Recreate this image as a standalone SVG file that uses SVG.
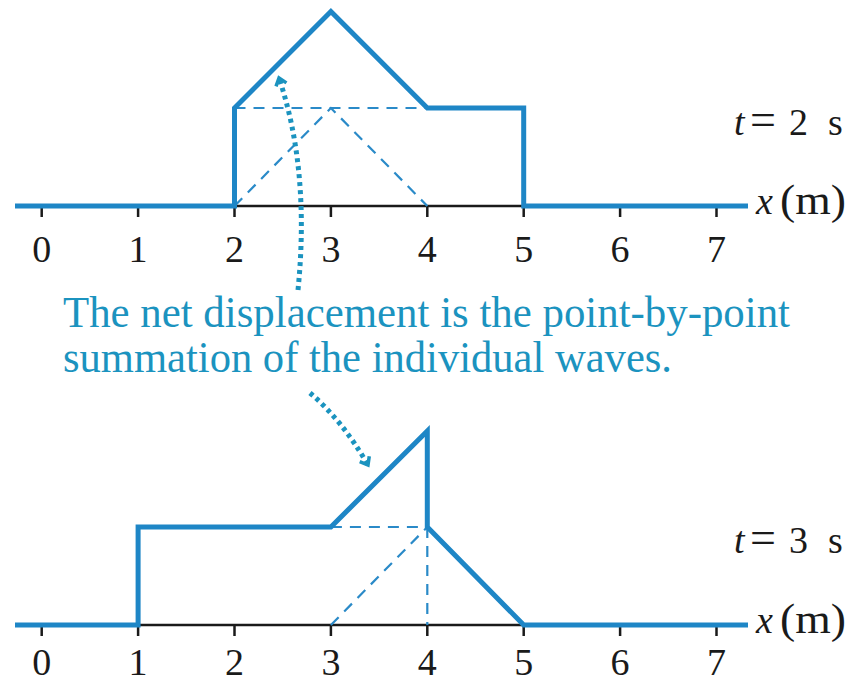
<svg xmlns="http://www.w3.org/2000/svg" width="852" height="685" viewBox="0 0 852 685">
<style>
.axis{stroke:#1a1a1a;stroke-width:2.5;fill:none}
.tick{stroke:#1a1a1a;stroke-width:2.5}
.wave{stroke:#1e86c6;stroke-width:5;fill:none;stroke-linejoin:miter}
.dash{stroke:#2a8ac8;stroke-width:2.2;fill:none;stroke-dasharray:11 8}
.num{font-family:"Liberation Serif",serif;font-size:38px;fill:#1a1a1a;text-anchor:middle}
.lbl{font-family:"Liberation Serif",serif;font-size:38px;fill:#1a1a1a}
.it{font-style:italic}
.eq{font-size:46px}
.pm{font-size:42px}
.note{font-family:"Liberation Serif",serif;font-size:45px;fill:#1b93bf}
.dots{stroke:#1b93bf;stroke-width:5;fill:none;stroke-dasharray:4 4}
</style>
<defs>
<marker id="chev" viewBox="0 0 14 14" refX="10" refY="7" markerWidth="14" markerHeight="14" markerUnits="userSpaceOnUse" orient="auto">
<path d="M3,1.5 L10,7 L3,12.5" fill="none" stroke="#1b93bf" stroke-width="3.5"/>
</marker>
</defs>

<g id="top-graph">
<line class="axis" x1="15" y1="206" x2="748" y2="206"/>
<g class="tick">
<line x1="41.7" y1="206" x2="41.7" y2="217"/><line x1="138.1" y1="206" x2="138.1" y2="217"/><line x1="234.5" y1="206" x2="234.5" y2="217"/><line x1="330.9" y1="206" x2="330.9" y2="217"/><line x1="427.3" y1="206" x2="427.3" y2="217"/><line x1="523.7" y1="206" x2="523.7" y2="217"/><line x1="620.1" y1="206" x2="620.1" y2="217"/><line x1="716.5" y1="206" x2="716.5" y2="217"/>
</g>
<polyline class="dash" points="234.5,108 427.3,108"/>
<polyline class="dash" points="234.5,206 330.9,108 427.3,206"/>
<polyline class="wave" points="15,206 234.5,206 234.5,108 330.9,11.5 427.3,108 523.7,108 523.7,206 748,206"/>
<g class="num">
<text x="41.7" y="262">0</text><text x="138.1" y="262">1</text><text x="234.5" y="262">2</text><text x="330.9" y="262">3</text><text x="427.3" y="262">4</text><text x="523.7" y="262">5</text><text x="620.1" y="262">6</text><text x="716.5" y="262">7</text>
</g>
<text class="lbl" y="135"><tspan class="it" x="734">t</tspan><tspan class="eq" x="750">=</tspan><tspan x="789">2</tspan><tspan x="828">s</tspan></text>
<text class="lbl" y="214"><tspan class="it" x="756">x</tspan><tspan class="pm" x="780" textLength="66" lengthAdjust="spacingAndGlyphs">(m)</tspan></text>
</g>

<g id="bottom-graph">
<line class="axis" x1="15" y1="625" x2="748" y2="625"/>
<g class="tick">
<line x1="41.7" y1="625" x2="41.7" y2="636"/><line x1="138.1" y1="625" x2="138.1" y2="636"/><line x1="234.5" y1="625" x2="234.5" y2="636"/><line x1="330.9" y1="625" x2="330.9" y2="636"/><line x1="427.3" y1="625" x2="427.3" y2="636"/><line x1="523.7" y1="625" x2="523.7" y2="636"/><line x1="620.1" y1="625" x2="620.1" y2="636"/><line x1="716.5" y1="625" x2="716.5" y2="636"/>
</g>
<polyline class="dash" points="330.9,527 427.3,527"/>
<polyline class="dash" points="330.9,625 427.3,527"/>
<polyline class="dash" points="427.3,527 427.3,625"/>
<polyline class="wave" points="15,625 138.1,625 138.1,527 330.9,527 427.3,431 427.3,527 523.7,625 748,625"/>
<g class="num">
<text x="41.7" y="675">0</text><text x="138.1" y="675">1</text><text x="234.5" y="675">2</text><text x="330.9" y="675">3</text><text x="427.3" y="675">4</text><text x="523.7" y="675">5</text><text x="620.1" y="675">6</text><text x="716.5" y="675">7</text>
</g>
<text class="lbl" y="553"><tspan class="it" x="734">t</tspan><tspan class="eq" x="750">=</tspan><tspan x="789">3</tspan><tspan x="828">s</tspan></text>
<text class="lbl" y="633"><tspan class="it" x="756">x</tspan><tspan class="pm" x="780" textLength="66" lengthAdjust="spacingAndGlyphs">(m)</tspan></text>
</g>

<g id="annotation">
<text class="note" x="63" y="327" textLength="727" lengthAdjust="spacingAndGlyphs">The net displacement is the point-by-point</text>
<text class="note" x="63" y="372" textLength="609" lengthAdjust="spacingAndGlyphs">summation of the individual waves.</text>
</g>

<g id="connectors">
<path class="dots" d="M298,290 Q310,170 279,78" marker-end="url(#chev)"/>
<path class="dots" d="M310,393 Q342,420 368,465" marker-end="url(#chev)"/>
</g>
</svg>
